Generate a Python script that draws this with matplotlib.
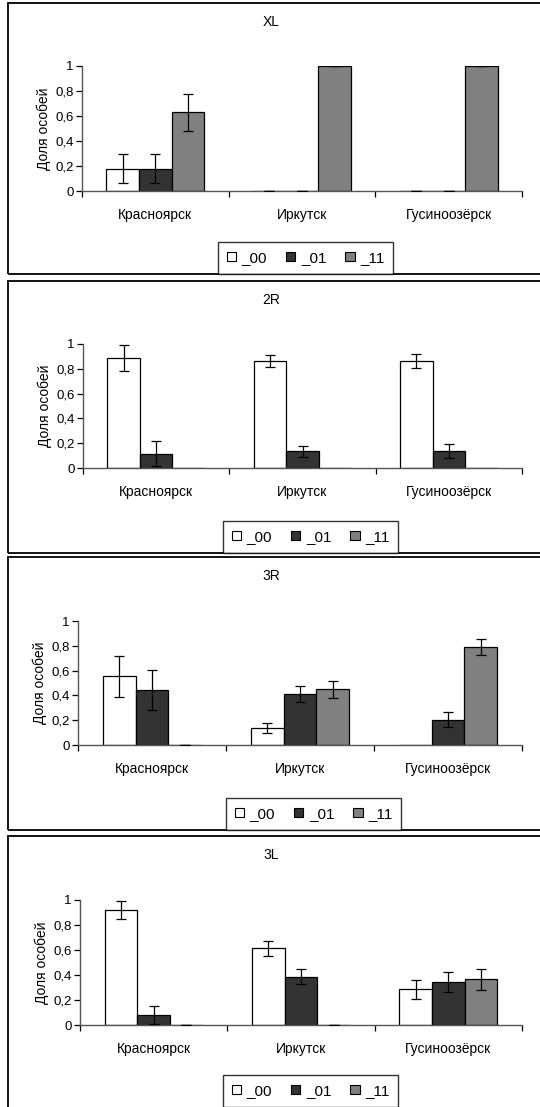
import matplotlib.pyplot as plt
from matplotlib.patches import Rectangle, Patch
import numpy as np

plt.rcParams['font.family'] = ['Liberation Sans', 'DejaVu Sans']

W, H = 540, 1107

cities = ["Красноярск", "Иркутск", "Гусиноозёрск"]
series = ["_00", "_01", "_11"]
colors = ["#ffffff", "#333333", "#808080"]
titles = ["XL", "2R", "3R", "3L"]

# values per panel: rows = series (_00, _01, _11), cols = cities
xl_vals = [[0.18, 0.0, 0.0], [0.18, 0.0, 0.0], [0.63, 1.0, 1.0]]
xl_errs = [[0.115, 0.0, 0.0], [0.115, 0.0, 0.0], [0.15, 0.0, 0.0]]

r2_vals = [[0.885, 0.865, 0.865], [0.115, 0.135, 0.135], [0.0, 0.0, 0.0]]
r2_errs = [[0.105, 0.048, 0.058], [0.1, 0.045, 0.057], [np.nan, np.nan, np.nan]]

r3_vals = [[0.555, 0.135, 0.0], [0.445, 0.41, 0.205], [0.0, 0.45, 0.79]]
r3_errs = [[0.165, 0.042, np.nan], [0.163, 0.065, 0.06], [0.0, 0.068, 0.062]]

l3_vals = [[0.92, 0.613, 0.285], [0.08, 0.387, 0.345], [0.0, 0.0, 0.365]]
l3_errs = [[0.075, 0.058, 0.078], [0.072, 0.06, 0.078], [0.0, 0.0, 0.083]]

all_vals = [xl_vals, r2_vals, r3_vals, l3_vals]
all_errs = [xl_errs, r2_errs, r3_errs, l3_errs]

# layout in pixels: panel box (top, bottom), axes (left, y=1, y=0), legend box left
boxes = [(3, 274), (281, 553), (557, 830), (836, 1115)]
axes_px = [(82, 66, 191), (83, 344, 468), (78, 621, 745), (80, 900, 1025)]
leg_left = [218, 223, 226, 223]
right_px = 522


def fx(p):
    return p / W


def fy(p):
    return 1 - p / H


fig = plt.figure(figsize=(W / 100, H / 100), dpi=100)

for k in range(4):
    top, bot = boxes[k]
    fig.add_artist(Rectangle((fx(8), fy(bot)), fx(560) - fx(8), fy(top) - fy(bot),
                             transform=fig.transFigure, fill=False,
                             edgecolor="black", linewidth=1.3))

    left, y1, y0 = axes_px[k]
    ax = fig.add_axes([fx(left), fy(y0), fx(right_px) - fx(left), fy(y1) - fy(y0)])
    x = np.arange(len(cities))
    bw = 1 / 4.5
    for i in range(3):
        ax.bar(x + (i - 1) * bw, all_vals[k][i], bw, color=colors[i],
               edgecolor="black", linewidth=0.9, label=series[i], zorder=2)
        ax.errorbar(x + (i - 1) * bw, all_vals[k][i], yerr=all_errs[k][i],
                    fmt="none", ecolor="black", elinewidth=0.9, capsize=3.6,
                    capthick=0.9, zorder=3)
    ax.set_xlim(-0.5, 2.5)
    ax.set_ylim(0, 1)
    ax.set_yticks([0, 0.2, 0.4, 0.6, 0.8, 1])
    ax.set_yticklabels(["0", "0,2", "0,4", "0,6", "0,8", "1"], fontsize=9.5)
    ax.set_xticks([-0.5, 0.5, 1.5, 2.5])
    ax.set_xticklabels([])
    ax.set_xticks(x, minor=True)
    ax.set_xticklabels(cities, minor=True, fontsize=10)
    ax.tick_params(axis="x", which="minor", length=0, pad=12)
    ax.tick_params(axis="x", which="major", length=4, width=0.9, direction="out")
    ax.tick_params(axis="y", length=4, width=0.9, pad=2)
    for s in ["top", "right"]:
        ax.spines[s].set_visible(False)
    for s in ["left", "bottom"]:
        ax.spines[s].set_color("#555555")
        ax.spines[s].set_linewidth(1.0)
    ax.set_ylabel("Доля особей", fontsize=10, labelpad=3)
    ax.patch.set_alpha(0)

    fig.text(fx(271), fy(top + 19), titles[k], fontsize=10, ha="center", va="center")

    handles = [Patch(facecolor=colors[i], edgecolor="black", linewidth=0.8)
               for i in range(3)]
    leg = fig.legend(handles, series, loc="lower left",
                     bbox_to_anchor=(fx(leg_left[k]), fy(min(bot, 1107))),
                     ncol=3, fontsize=11, frameon=True, fancybox=False,
                     handlelength=0.6, handleheight=0.6, handletextpad=0.35,
                     columnspacing=1.25, borderpad=0.6, borderaxespad=0)
    leg.get_frame().set_edgecolor("black")
    leg.get_frame().set_linewidth(1.0)

fig.savefig("out.png", dpi=100)
